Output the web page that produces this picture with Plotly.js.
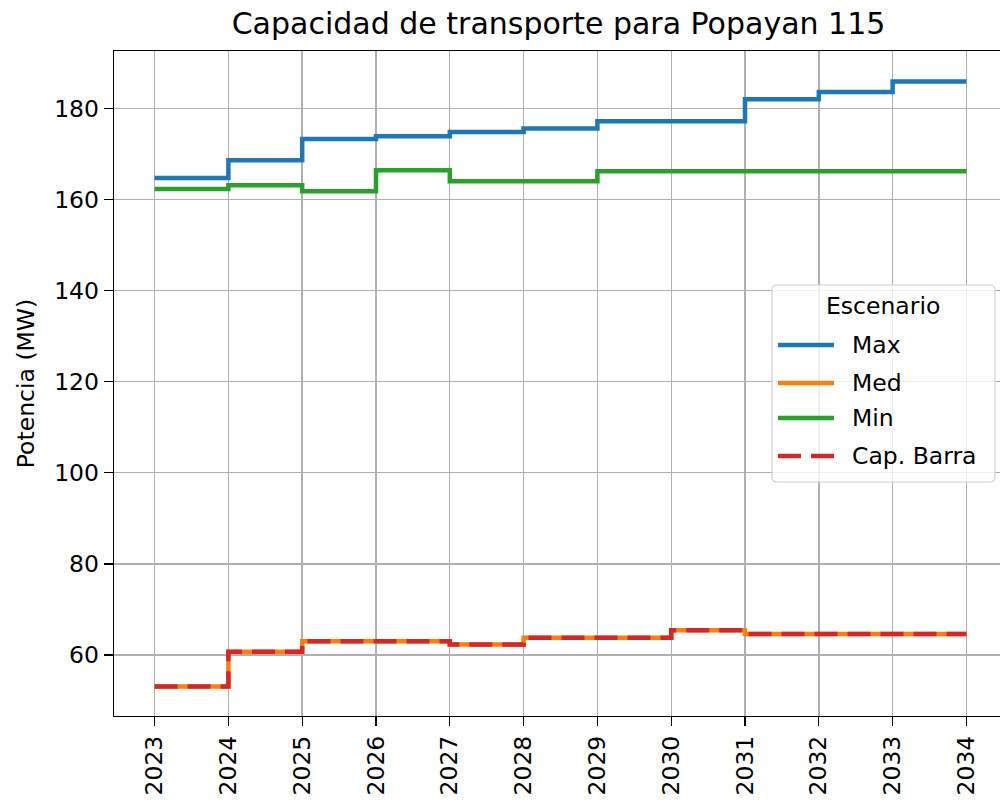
<!DOCTYPE html>
<html>
<head>
<meta charset="utf-8">
<script src="https://cdn.plot.ly/plotly-3.0.1.min.js"></script>
<style>
html,body{margin:0;padding:0;overflow:hidden;background:#fff;}
#chart{width:1007px;height:802px;}
</style>
</head>
<body>
<div id="chart"></div>
<script>
const years = [2023, 2024, 2025, 2026, 2027, 2028, 2029, 2030, 2031, 2032, 2033, 2034];
const yearLabels = ['2023','2024','2025','2026','2027','2028','2029','2030','2031','2032','2033','2034'];
const maxVals = [164.7, 168.6, 173.3, 173.9, 174.8, 175.6, 177.2, 177.2, 182.0, 183.6, 185.9, 185.9];
const medVals = [53.1, 60.7, 63.0, 63.0, 62.3, 63.8, 63.8, 65.4, 64.6, 64.6, 64.6, 64.6];
const minVals = [162.3, 163.1, 161.8, 166.4, 164.0, 164.0, 166.2, 166.2, 166.2, 166.2, 166.2, 166.2];
const capVals = [53.1, 60.7, 63.0, 63.0, 62.3, 63.8, 63.8, 65.4, 64.6, 64.6, 64.6, 64.6];
const yTicks = [60, 80, 100, 120, 140, 160, 180];
const seriesNames = ['Max', 'Med', 'Min', 'Cap. Barra'];
const seriesColors = ['#1f77b4', '#ff7f0e', '#2ca02c', '#d62728'];
const legendTitle = 'Escenario';

const font = 'DejaVu Sans, sans-serif';
const fs = 23.5;
const lw = 4.5;
const dashStyle = '23px,10px';

const seriesVals = [maxVals, medVals, minVals, capVals];
const traces = seriesVals.map((v, i) => ({
  x: years, y: v, name: seriesNames[i], mode: 'lines', showlegend: false,
  line: {shape: 'hv', color: seriesColors[i], width: lw, dash: i === 3 ? dashStyle : 'solid'}
}));

// plot area geometry (pixels)
const W = 1007, H = 802, L = 114, T = 51, B = 86;
const PW = W - L, PH = H - T - B;
const px = X => (X - L) / PW;
const py = Y => (H - B - Y) / PH;

// custom legend box (matplotlib-like)
const bx0 = 772, bx1 = 995, by0 = 285, by1 = 482, r = 5;
const rx = r / PW, ry = r / PH;
const X0 = px(bx0), X1 = px(bx1), Y0 = py(by0), Y1 = py(by1);
const boxPath = `M ${X0 + rx} ${Y0} L ${X1 - rx} ${Y0} Q ${X1} ${Y0} ${X1} ${Y0 - ry} ` +
  `L ${X1} ${Y1 + ry} Q ${X1} ${Y1} ${X1 - rx} ${Y1} L ${X0 + rx} ${Y1} Q ${X0} ${Y1} ${X0} ${Y1 + ry} ` +
  `L ${X0} ${Y0 - ry} Q ${X0} ${Y0} ${X0 + rx} ${Y0} Z`;
const shapes = [{
  type: 'path', xref: 'paper', yref: 'paper', path: boxPath,
  fillcolor: 'rgba(255,255,255,0.8)', line: {color: '#d0d0d0', width: 1.2}, layer: 'above'
}];
const itemY = [345, 383, 418, 456];
const annotations = [{
  xref: 'paper', yref: 'paper', x: px(883), y: py(306), xanchor: 'center', yanchor: 'middle',
  text: legendTitle, showarrow: false, font: {family: font, size: fs, color: '#000'}
}];
seriesNames.forEach((n, i) => {
  shapes.push({
    type: 'line', xref: 'paper', yref: 'paper', x0: px(778), x1: px(834), y0: py(itemY[i]), y1: py(itemY[i]),
    line: {color: seriesColors[i], width: lw, dash: i === 3 ? dashStyle : 'solid'}, layer: 'above'
  });
  annotations.push({
    xref: 'paper', yref: 'paper', x: px(850), y: py(itemY[i]), xanchor: 'left', yanchor: 'middle',
    text: n, showarrow: false, font: {family: font, size: fs, color: '#000'}
  });
});

const axisCommon = {
  showline: true, mirror: true, linecolor: '#000', linewidth: 1.3,
  showgrid: true, gridcolor: '#b0b0b0', gridwidth: 1.4,
  zeroline: false,
  ticks: 'outside', ticklen: 9, tickwidth: 1.3, tickcolor: '#000',
  tickfont: {family: font, size: fs, color: '#000'}
};

const layout = {
  width: W, height: H,
  margin: {l: L, r: 0, t: T, b: B},
  paper_bgcolor: '#fff', plot_bgcolor: '#fff',
  font: {family: font, color: '#000'},
  title: {text: 'Capacidad de transporte para Popayan 115', font: {family: font, size: 30, color: '#000'},
          x: 558.5 / W, xanchor: 'center', y: 1 - 23 / H, yanchor: 'middle'},
  xaxis: Object.assign({}, axisCommon, {
    range: [2022.45, 2034.55],
    tickmode: 'array', tickvals: years, ticktext: yearLabels, tickangle: -90
  }),
  yaxis: Object.assign({}, axisCommon, {
    range: [46.6, 192.6],
    tickmode: 'array', tickvals: yTicks, ticktext: yTicks.map(String),
    title: {text: 'Potencia (MW)', font: {family: font, size: fs, color: '#000'}, standoff: 13}
  }),
  showlegend: false,
  shapes: shapes,
  annotations: annotations
};

Plotly.newPlot('chart', traces, layout, {displayModeBar: false, staticPlot: true});
</script>
</body>
</html>
